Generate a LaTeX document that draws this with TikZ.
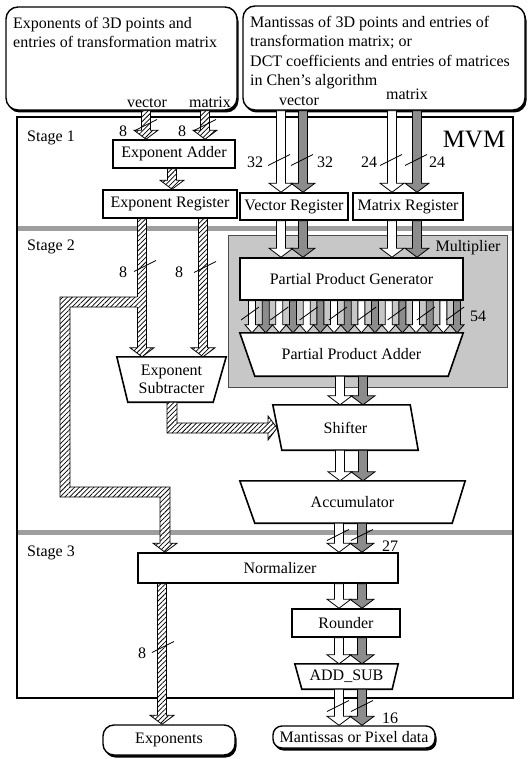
\documentclass[tikz,border=0pt]{standalone}
\usepackage{fontspec}
\setmainfont{Liberation Serif}
\usetikzlibrary{calc,patterns,patterns.meta,shadows,backgrounds}
\definecolor{gry}{gray}{0.55}
\definecolor{mulg}{gray}{0.78}
\definecolor{bandg}{gray}{0.62}
\newcommand\fs{\fontsize{16}{19.3}\selectfont}
\newcommand\fatsw{4.5pt}
\newcommand\fathw{12pt}
\newcommand\fathl{9pt}
\newcommand\vfat[4][]{\path[#1] let \p1=(#3), \p2=(#4) in (#2pt-\fatsw,\y1) -- (#2pt-\fatsw,\y2+\fathl) -- (#2pt-\fathw,\y2+\fathl) -- (#2pt,\y2) -- (#2pt+\fathw,\y2+\fathl) -- (#2pt+\fatsw,\y2+\fathl) -- (#2pt+\fatsw,\y1) -- cycle;}
\newcommand\wsl[2]{\draw[sl] (#1-11,#2+5.5) -- (#1+11,#2-5.5);}
\tikzset{
  blk/.style={draw, line width=1.6pt, fill=white, inner sep=0pt, font=\fs},
  txt/.style={inner sep=0pt, font=\fs},
  poly/.style={draw, line width=1.6pt, fill=white},
  hatchpat/.style={pattern={Lines[angle=45,distance=3.4pt,line width=0.75pt]}},
  hatch/.style={preaction={fill=white}, hatchpat, draw, line width=0.8pt},
  hatchfill/.style={preaction={fill=white}, hatchpat},
  hatchline/.style={draw, line width=0.8pt},
  wfat/.style={fill=white, draw, line width=0.8pt},
  gfat/.style={fill=gry, draw, line width=0.8pt},
  io/.style={draw, line width=1.4pt, rounded corners=12pt, fill=white, inner sep=0pt, font=\fs,
    drop shadow={shadow xshift=1.5pt, shadow yshift=-2.5pt, opacity=1, fill=black}},
  sl/.style={line width=0.8pt},
}
\begin{document}
\begin{tikzpicture}[x=1pt,y=-1pt]
\useasboundingbox (0,0) rectangle (530,759);
% input / output boxes
\node[io, minimum width=231pt, minimum height=103pt] (inL) at (121.5,58.5) {};
\node[io, minimum width=282pt, minimum height=104pt] (inR) at (384,58) {};
\node[io, rounded corners=11pt, minimum width=132pt, minimum height=30pt] (exps) at (169,740) {Exponents};
\node[io, rounded corners=9pt, minimum width=162pt, minimum height=22pt] (man) at (354,737) {Mantissas or Pixel data};
\node[txt, anchor=north west, align=left] at (13,17) {Exponents of 3D points and\\entries of transformation matrix};
\node[txt, anchor=north west, align=left] at (250,16) {Mantissas of 3D points and entries of\\transformation matrix; or\\DCT coefficients and entries of matrices\\in Chen's algorithm};
\node[txt, anchor=base] at (147,108) {vector};
\node[txt, anchor=base] at (210,108) {matrix};
\node[txt, anchor=base] at (299,106) {vector};
\node[txt, anchor=base] at (407,100) {matrix};
% blocks
\node[blk, minimum width=122pt, minimum height=28pt] (ea) at (174,154) {Exponent Adder};
\node[blk, minimum width=134pt, minimum height=28pt] (er) at (170,204) {Exponent Register};
\node[blk, minimum width=108pt, minimum height=27pt] (vr) at (294,206.5) {Vector Register};
\node[blk, minimum width=110pt, minimum height=27pt] (mr) at (408,206.5) {Matrix Register};
\node[blk, minimum width=223pt, minimum height=42pt] (ppg) at (351.5,279) {Partial Product Generator};
\node[txt, minimum width=223pt, minimum height=43pt] (ppa) at (351.5,354.5) {Partial Product Adder};
\node[txt, minimum width=145pt, minimum height=45pt] (sh) at (345.5,427.5) {Shifter};
\node[txt, minimum width=225pt, minimum height=42pt] (acc) at (352.5,502) {Accumulator};
\node[txt, minimum width=109pt, minimum height=45pt, align=center, font=\fontsize{16}{18}\selectfont] (es) at (171.5,379.5) {Exponent\\Subtracter};
\node[blk, minimum width=260pt, minimum height=30pt] (norm) at (268,568) {\hspace*{24pt}Normalizer};
\node[blk, minimum width=108pt, minimum height=28pt] (rnd) at (346,623) {Rounder};
\node[txt, minimum width=103pt, minimum height=25pt] (as) at (346.5,676.5) {ADD\_SUB};
% background
\begin{scope}[on background layer]
\node[draw, line width=1.8pt, minimum width=496pt, minimum height=581pt, inner sep=0pt] (mvm) at (265,407.5) {};
\fill[bandg] (18,226) rectangle (512,231);
\fill[bandg] (18,530) rectangle (512,535);
\node[draw=gray!60!black, line width=0.6pt, fill=mulg, minimum width=279pt, minimum height=152pt, inner sep=0pt] (mult) at (367.5,311) {};
\draw[poly] (ppa.north west) -- (ppa.north east) -- ($(ppa.south east)+(-15,0)$) -- ($(ppa.south west)+(15,0)$) -- cycle;
\draw[poly] (sh.north west) -- ($(sh.north east)+(-8,0)$) -- (sh.south east) -- ($(sh.south west)+(9,0)$) -- cycle;
\draw[poly] (acc.north west) -- (acc.north east) -- ($(acc.south east)+(-13,0)$) -- ($(acc.south west)+(15,0)$) -- cycle;
\draw[poly] (es.north west) -- (es.north east) -- ($(es.south east)+(-13,0)$) -- ($(es.south west)+(11,0)$) -- cycle;
\draw[poly] (as.north west) -- (as.north east) -- ($(as.south east)+(-6,0)$) -- ($(as.south west)+(7,0)$) -- cycle;
\end{scope}
% labels
\node[txt] at (474,140) {\fontsize{25}{25}\selectfont MVM};
\node[txt, anchor=west] at (27,138) {Stage 1};
\node[txt, anchor=west] at (27,247) {Stage 2};
\node[txt, anchor=west] at (27,553) {Stage 3};
\node[txt] at (468,248) {Multiplier};
\node[txt] at (123,131) {8};
\node[txt] at (182,131) {8};
\node[txt] at (255,162) {32};
\node[txt] at (325,162) {32};
\node[txt] at (369,162) {24};
\node[txt] at (437,162) {24};
\node[txt] at (123,272) {8};
\node[txt] at (179,272) {8};
\node[txt] at (478,316) {54};
\node[txt] at (390,546) {27};
\node[txt] at (390,718) {16};
\node[txt] at (142,653) {8};
% hatched exponent path
\vfat[hatch]{146}{inL.south}{ea.north}
\vfat[hatch]{205}{inL.south}{ea.north}
\vfat[hatch]{172}{ea.south}{er.north}
\vfat[hatch]{142}{er.south}{es.north}
\vfat[hatch]{203}{er.south}{es.north}
\vfat[hatch]{162}{norm.south}{exps.north}
% branch to normalizer
\coordinate (j1) at (142,302);
\coordinate (b1) at (65,302);
\coordinate (b2) at (65,492);
\coordinate (b3) at (165,492);
\coordinate (t1) at (b3 |- norm.north);
\fill[hatchfill] ($(j1)+(-3,-5)$) -- ($(b1)+(-5,-5)$) -- ($(b2)+(-5,5)$) -- ($(b3)+(-5,5)$) -- ($(t1)+(-5,-9)$) -- ($(t1)+(-12,-9)$) -- (t1) -- ($(t1)+(12,-9)$) -- ($(t1)+(5,-9)$) -- ($(b3)+(5,-5)$) -- ($(b2)+(5,-5)$) -- ($(b1)+(5,5)$) -- ($(j1)+(-3,5)$) -- cycle;
\draw[hatchline] ($(j1)+(-5,-5)$) -- ($(b1)+(-5,-5)$) -- ($(b2)+(-5,5)$) -- ($(b3)+(-5,5)$) -- ($(t1)+(-5,-9)$) -- ($(t1)+(-12,-9)$) -- (t1) -- ($(t1)+(12,-9)$) -- ($(t1)+(5,-9)$) -- ($(b3)+(5,-5)$) -- ($(b2)+(5,-5)$) -- ($(b1)+(5,5)$) -- ($(j1)+(-5,5)$);
% subtracter to shifter
\coordinate (c1) at (172,428);
\coordinate (j2) at (c1 |- es.south);
\coordinate (t2) at (277,428);
\path[hatch] ($(j2)+(-5,0)$) -- ($(c1)+(-5,5)$) -- ($(t2)+(-9,5)$) -- ($(t2)+(-9,12)$) -- (t2) -- ($(t2)+(-9,-12)$) -- ($(t2)+(-9,-5)$) -- ($(c1)+(5,-5)$) -- ($(j2)+(5,0)$) -- cycle;
% mantissa path
\vfat[wfat]{281}{inR.south}{vr.north}
\vfat[gfat]{303}{inR.south}{vr.north}
\vfat[wfat]{392}{inR.south}{mr.north}
\vfat[gfat]{417}{inR.south}{mr.north}
\vfat[wfat]{281}{vr.south}{ppg.north}
\vfat[gfat]{303}{vr.south}{ppg.north}
\vfat[wfat]{392}{mr.south}{ppg.north}
\vfat[gfat]{417}{mr.south}{ppg.north}
{\renewcommand\fatsw{3.5pt}\renewcommand\fathw{7pt}\renewcommand\fathl{8pt}%
\foreach \k in {0,2,...,14}{\pgfmathsetmacro\xx{252+13.67*\k}\vfat[wfat]{\xx}{ppg.south}{ppa.north}}
\foreach \k in {1,3,...,15}{\pgfmathsetmacro\xx{252+13.67*\k}\vfat[gfat]{\xx}{ppg.south}{ppa.north}}
}
\foreach \k in {0,...,7}{\pgfmathsetmacro\xx{250+29.3*\k}\draw[sl] (\xx-9,320) -- (\xx+9,307);}
\vfat[wfat]{340}{ppa.south}{sh.north}
\vfat[gfat]{363}{ppa.south}{sh.north}
\vfat[wfat]{340}{sh.south}{acc.north}
\vfat[gfat]{363}{sh.south}{acc.north}
\vfat[wfat]{339}{acc.south}{norm.north}
\vfat[gfat]{362}{acc.south}{norm.north}
\vfat[wfat]{339}{norm.south}{rnd.north}
\vfat[gfat]{362}{norm.south}{rnd.north}
\vfat[wfat]{339}{rnd.south}{as.north}
\vfat[gfat]{362}{rnd.south}{as.north}
\vfat[wfat]{339}{as.south}{man.north}
\vfat[gfat]{362}{as.south}{man.north}
% width slashes
\wsl{146}{125}
\wsl{205}{125}
\wsl{279}{160}
\wsl{302}{160}
\wsl{391}{160}
\wsl{416}{160}
\wsl{145}{266}
\wsl{205}{267}
\wsl{338}{535}
\wsl{362}{535}
\wsl{338}{706}
\wsl{362}{706}
\wsl{163}{647}
\end{tikzpicture}
\end{document}
